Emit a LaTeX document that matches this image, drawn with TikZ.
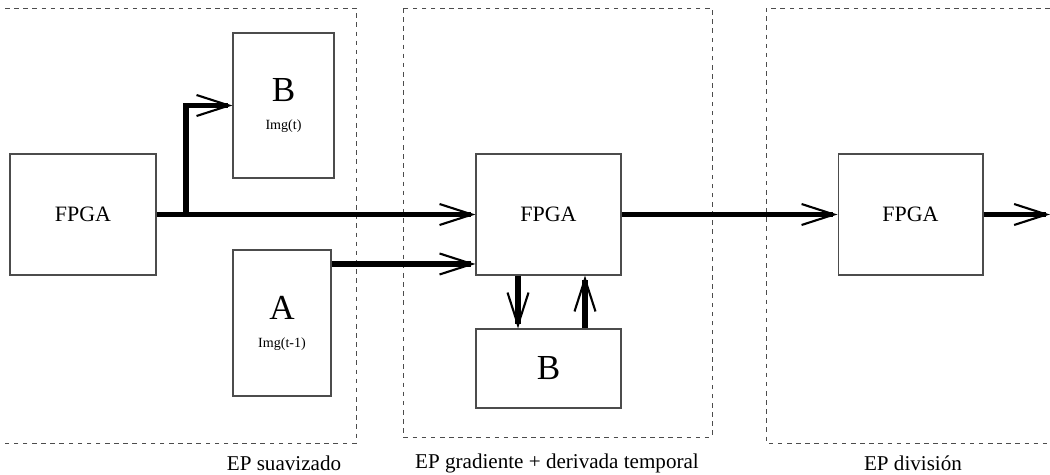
\documentclass[tikz,border=0pt]{standalone}
\usepackage{fontspec}
\setmainfont{Liberation Serif}
\usetikzlibrary{arrows.meta,positioning}

\tikzset{
  caja/.style={draw=black!70, line width=0.6pt, inner sep=0pt, font=\fontsize{12.5}{14}\selectfont},
  flecha/.style={line width=3pt, -{Straight Barb[length=6.5mm,width=4.2mm,line width=1.2pt]}},
  linea/.style={line width=3pt},
  zona/.style={draw=black!70, line width=0.5pt, dash pattern=on 2.6pt off 2.6pt},
  etiqueta/.style={font=\fontsize{12}{14}\selectfont},
}
\newcommand{\letra}[1]{{\fontsize{20}{22}\selectfont #1}}
\newcommand{\imagen}[1]{{\fontsize{8}{9}\selectfont #1}}

\begin{document}
\begin{tikzpicture}[x=0.02cm, y=-0.02cm]
  \useasboundingbox (0,0) rectangle (1050,474);

  % zonas de cada etapa
  \draw[zona] (5,8) -- (356,8) -- (356,443) -- (5,443);
  \draw[zona] (403,8) rectangle (712,437);
  \draw[zona] (1050,8) -- (766,8) -- (766,443) -- (1050,443);

  % bloques
  \node[caja, minimum width=2.92cm, minimum height=2.42cm] (fpgaA) at (83,214.5) {FPGA};
  \node[caja, minimum width=2.02cm, minimum height=2.9cm, align=center] (memB) at (283.5,105.5)
    {\letra{B}\\[2pt]\imagen{Img(t)}};
  \node[caja, minimum width=1.96cm, minimum height=2.92cm, align=center] (memA) at (282,323)
    {\letra{A}\\[2pt]\imagen{Img(t-1)}};
  \node[caja, minimum width=2.9cm, minimum height=2.42cm] (fpgaB) at (548.5,214.5) {FPGA};
  \node[caja, minimum width=2.9cm, minimum height=1.58cm] (memC) at (548.5,368.5) {\letra{B}};
  \node[caja, minimum width=2.9cm, minimum height=2.42cm] (fpgaC) at (910.5,214.5) {FPGA};

  % conexiones
  \coordinate (rama) at (186,214.5);
  \coordinate (salida) at (1050,214.5);
  \draw[flecha] (fpgaA.east) -- (fpgaB.west);
  \draw[flecha] (rama) |- (memB.west);
  \draw[flecha] (memA.50.8) -- (memA.50.8 -| fpgaB.west);
  \draw[flecha] ([xshift=-0.61cm]fpgaB.south) -- ([xshift=-0.61cm]fpgaB.south |- memC.north);
  \draw[flecha] ([xshift=0.73cm]memC.north) -- ([xshift=0.73cm]memC.north |- fpgaB.south);
  \draw[flecha] (fpgaB.east) -- (fpgaC.west);
  \draw[flecha] (fpgaC.east) -- (salida);

  % nombres de las etapas
  \node[etiqueta] (etA) at (284,463) {EP suavizado};
  \node[etiqueta] (etB) at (557,463) {EP gradiente + derivada temporal};
  \node[etiqueta] (etC) at (913,463) {EP división};
\end{tikzpicture}
\end{document}
